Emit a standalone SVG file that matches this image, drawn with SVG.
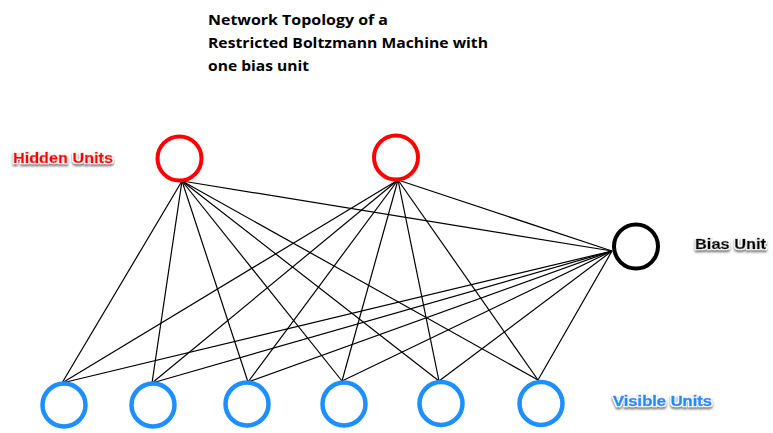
<svg xmlns="http://www.w3.org/2000/svg" width="773" height="433" viewBox="0 0 773 433">
<defs>
<filter id="sh" x="-10%" y="-30%" width="120%" height="170%">
<feMorphology in="SourceAlpha" operator="dilate" radius="1" result="d"/>
<feGaussianBlur in="d" stdDeviation="1" result="b"/>
<feOffset in="b" dx="0" dy="1.5" result="o"/>
<feFlood flood-color="#777"/>
<feComposite in2="o" operator="in" result="s"/>
<feFlood flood-color="#fff"/>
<feComposite in2="d" operator="in" result="w"/>
<feMerge><feMergeNode in="s"/><feMergeNode in="w"/><feMergeNode in="SourceGraphic"/></feMerge>
</filter>
<style>
.title{font-family:"Open Sans","Liberation Sans",sans-serif;font-weight:bold;font-size:15px;fill:#000}
.lbl{font-family:"Liberation Sans",Arial,sans-serif;font-weight:bold;font-size:14.5px;stroke-width:0.6px;filter:url(#sh)}
.hid{fill:#fff;stroke:#ff0000;stroke-width:4}
.vis{fill:#fff;stroke:#1e8fff;stroke-width:4.5}
.bias{fill:#fff;stroke:#000;stroke-width:4}
#edges line{stroke:#000;stroke-width:1.2}
</style>
</defs>
<rect width="773" height="433" fill="#fff"/>
<g id="title">
<text class="title" x="208" y="25" textLength="180" lengthAdjust="spacingAndGlyphs">Network Topology of a</text>
<text class="title" x="208" y="48" textLength="280" lengthAdjust="spacingAndGlyphs">Restricted Boltzmann Machine with</text>
<text class="title" x="208" y="71" textLength="101" lengthAdjust="spacingAndGlyphs">one bias unit</text>
</g>
<g id="edges">
<line x1="182" y1="181" x2="62" y2="383"/>
<line x1="182" y1="181" x2="152" y2="383"/>
<line x1="182" y1="181" x2="248" y2="382"/>
<line x1="182" y1="181" x2="342" y2="381"/>
<line x1="182" y1="181" x2="439" y2="381"/>
<line x1="182" y1="181" x2="538" y2="380"/>
<line x1="182" y1="181" x2="612" y2="251"/>
<line x1="398" y1="180" x2="62" y2="383"/>
<line x1="398" y1="180" x2="152" y2="383"/>
<line x1="398" y1="180" x2="248" y2="382"/>
<line x1="398" y1="180" x2="342" y2="381"/>
<line x1="398" y1="180" x2="439" y2="381"/>
<line x1="398" y1="180" x2="538" y2="380"/>
<line x1="398" y1="180" x2="612" y2="251"/>
<line x1="612" y1="251" x2="62" y2="383"/>
<line x1="612" y1="251" x2="152" y2="383"/>
<line x1="612" y1="251" x2="248" y2="382"/>
<line x1="612" y1="251" x2="342" y2="381"/>
<line x1="612" y1="251" x2="439" y2="381"/>
<line x1="612" y1="251" x2="538" y2="380"/>
</g>
<g id="hidden1"><circle class="hid" cx="179.5" cy="158.5" r="22"/></g>
<g id="hidden2"><circle class="hid" cx="396" cy="157.5" r="22"/></g>
<g id="bias"><circle class="bias" cx="636" cy="246.5" r="22"/></g>
<g id="visible1"><circle class="vis" cx="64" cy="405" r="21.5"/></g>
<g id="visible2"><circle class="vis" cx="153" cy="405" r="21.5"/></g>
<g id="visible3"><circle class="vis" cx="247" cy="404" r="21.5"/></g>
<g id="visible4"><circle class="vis" cx="344" cy="404" r="21.5"/></g>
<g id="visible5"><circle class="vis" cx="441" cy="403.5" r="21.5"/></g>
<g id="visible6"><circle class="vis" cx="541" cy="403.5" r="21.5"/></g>
<g id="labels">
<text class="lbl" x="13" y="163" fill="#ff0000" stroke="#ff0000" textLength="100" lengthAdjust="spacingAndGlyphs">Hidden Units</text>
<text class="lbl" x="695" y="249" fill="#000" stroke="#000" textLength="71" lengthAdjust="spacingAndGlyphs">Bias Unit</text>
<text class="lbl" x="613" y="406" fill="#1e8fff" stroke="#1e8fff" textLength="99" lengthAdjust="spacingAndGlyphs">Visible Units</text>
</g>
</svg>
